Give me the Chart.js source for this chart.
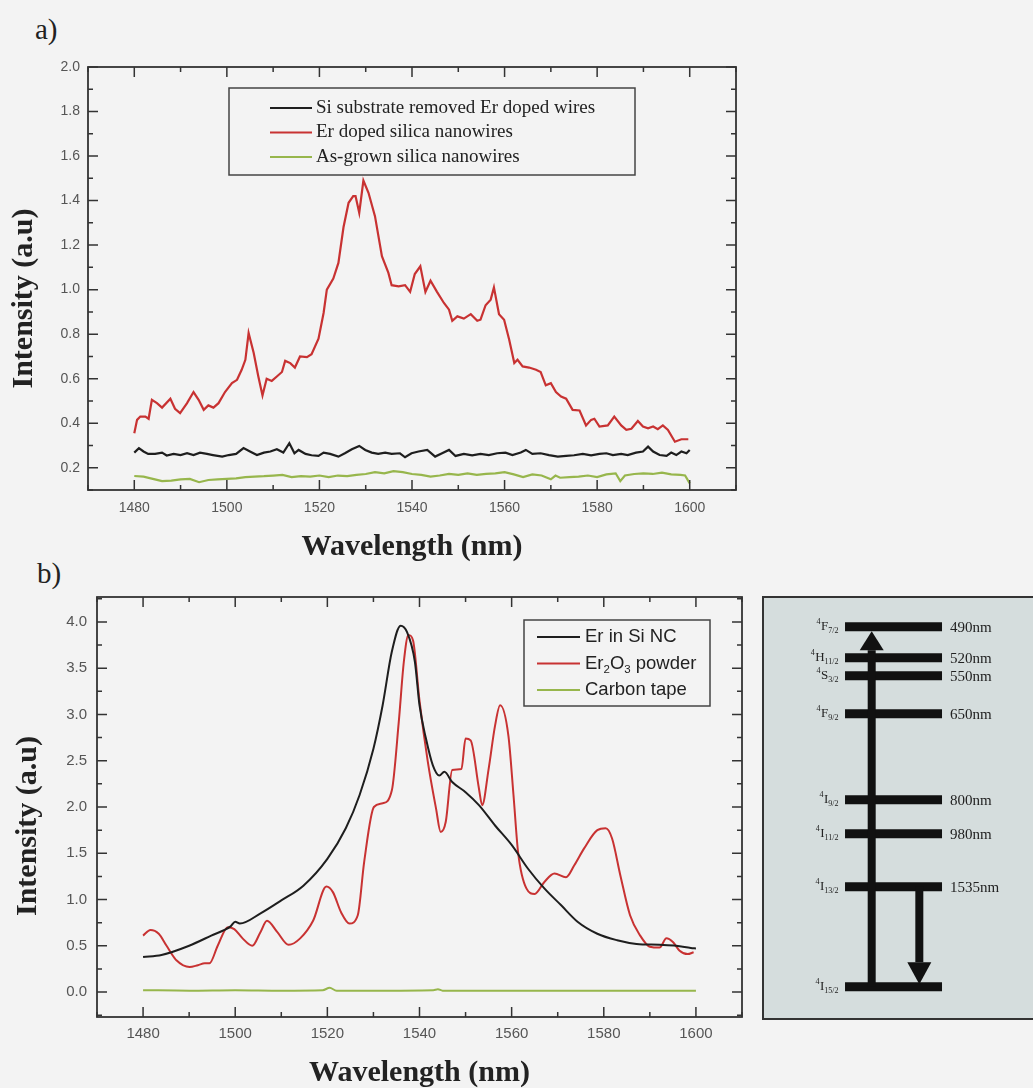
<!DOCTYPE html>
<html>
<head>
<meta charset="utf-8">
<title>Er photoluminescence</title>
<script src="https://cdn.jsdelivr.net/npm/chart.js@4.4.1/dist/chart.umd.min.js"></script>
<style>
  body { margin: 0; background: #f3f3f3; overflow: hidden; }
  #page { position: relative; width: 1033px; height: 1088px; overflow: hidden; }
  canvas { position: absolute; }
  .panel { position: absolute; font: 29px "Liberation Serif", serif; color: #222; }
</style>
</head>
<body>
<div id="page">
  <div class="panel" style="left:35px;top:13px">a)</div>
  <div class="panel" style="left:37px;top:557px">b)</div>
  <canvas id="chartA" width="760" height="570" style="left:0;top:0"></canvas>
  <canvas id="chartB" width="760" height="523" style="left:0;top:565px"></canvas>
  <canvas id="levels" width="290" height="424" style="left:762px;top:596px"></canvas>
</div>
<script>
// ---- ticks ----
var wlMajor = [1480, 1500, 1520, 1540, 1560, 1580, 1600];
var wlMinor = [1470, 1490, 1510, 1530, 1550, 1570, 1590, 1610];
var intMajorA = [0.2, 0.4, 0.6, 0.8, 1.0, 1.2, 1.4, 1.6, 1.8, 2.0];
var intMinorA = [0.1, 0.3, 0.5, 0.7, 0.9, 1.1, 1.3, 1.5, 1.7, 1.9];
var intMajorB = [0.0, 0.5, 1.0, 1.5, 2.0, 2.5, 3.0, 3.5, 4.0];
var intMinorB = [-0.25, 0.25, 0.75, 1.25, 1.75, 2.25, 2.75, 3.25, 3.75, 4.25];

// ---- a) nanowire spectra ----
var labelsA = ['Si substrate removed Er doped wires', 'Er doped silica nanowires', 'As-grown silica nanowires'];

var blackAWl = [1480, 1481, 1482, 1483, 1484.5, 1486, 1487, 1488.5, 1490, 1491.4, 1492.8, 1494.2, 1495.7, 1497, 1499,
  1500.4, 1502, 1503.6, 1505, 1506.5, 1508, 1509.4, 1510.8, 1512.2, 1513.5, 1514.6, 1515.5, 1517, 1518.3, 1519.8,
  1520.9, 1522.3, 1524.1, 1525.5, 1527, 1528.6, 1529.9, 1531.3, 1532.7, 1534.2, 1535.6, 1537.4, 1538.5, 1539.9,
  1541.4, 1543.3, 1545, 1546.5, 1548, 1549.4, 1551.2, 1553, 1554.8, 1556.6, 1558.4, 1560.2, 1561.7, 1563.5, 1564.6,
  1566, 1567.8, 1569.6, 1571.5, 1573.3, 1575, 1576.9, 1578.7, 1580.5, 1582, 1583.4, 1585.2, 1586.6, 1588.4, 1589.9,
  1591, 1592.1, 1593.5, 1595, 1596, 1597.1, 1598.2, 1599.3, 1600];
var blackAVal = [0.268, 0.288, 0.273, 0.262, 0.262, 0.268, 0.255, 0.262, 0.257, 0.265, 0.257, 0.268, 0.262, 0.257, 0.25,
  0.257, 0.262, 0.288, 0.273, 0.257, 0.268, 0.273, 0.283, 0.268, 0.31, 0.265, 0.28, 0.262, 0.256, 0.253,
  0.268, 0.262, 0.25, 0.265, 0.283, 0.298, 0.28, 0.268, 0.262, 0.268, 0.262, 0.265, 0.247, 0.265,
  0.273, 0.28, 0.25, 0.265, 0.28, 0.253, 0.262, 0.256, 0.262, 0.257, 0.265, 0.268, 0.257, 0.268, 0.28,
  0.262, 0.265, 0.257, 0.25, 0.253, 0.256, 0.262, 0.256, 0.262, 0.265, 0.257, 0.262, 0.257, 0.268, 0.273,
  0.295, 0.273, 0.257, 0.253, 0.268, 0.257, 0.273, 0.265, 0.28];

var redAWl = [1480, 1480.6, 1481.3, 1482.4, 1483.1, 1483.8, 1484.9, 1486, 1487.8, 1488.8, 1489.9, 1491.4, 1492.8, 1493.9,
  1495, 1496, 1497.1, 1498.2, 1499.6, 1501.1, 1502.2, 1503.2, 1504, 1504.7, 1505.8, 1506.8, 1507.7, 1508.6, 1509.7,
  1510.8, 1511.9, 1512.6, 1513.7, 1514.7, 1515.8, 1517.3, 1518.3, 1519.8, 1520.9, 1521.6, 1523, 1524.1, 1525.2,
  1526.3, 1527.3, 1527.8, 1528.6, 1529.5, 1530.6, 1532, 1533.5, 1534.9, 1535.6, 1537.1, 1538.5, 1539.6, 1540.6,
  1541.8, 1542.9, 1544, 1545.4, 1546.9, 1548, 1548.7, 1549.8, 1551.2, 1552.7, 1554.1, 1554.8, 1555.9, 1557, 1557.7,
  1558.8, 1559.9, 1561, 1562.1, 1562.8, 1563.9, 1565.3, 1566.8, 1567.8, 1568.9, 1570, 1571.1, 1572.2, 1573.3,
  1574.7, 1576.2, 1577.6, 1578.7, 1579.4, 1580.5, 1582.3, 1583.7, 1585.2, 1586.3, 1587.4, 1588.8, 1589.9, 1591,
  1592.1, 1593.1, 1594.2, 1595.3, 1596.8, 1598.2, 1599.7];
var redAVal = [0.355, 0.415, 0.43, 0.43, 0.42, 0.505, 0.49, 0.47, 0.51, 0.465, 0.445, 0.49, 0.54, 0.505,
  0.46, 0.48, 0.47, 0.49, 0.54, 0.58, 0.595, 0.64, 0.685, 0.805, 0.715, 0.61, 0.525, 0.60, 0.59,
  0.61, 0.63, 0.68, 0.67, 0.65, 0.70, 0.697, 0.71, 0.78, 0.895, 1.0, 1.05, 1.12, 1.28,
  1.39, 1.42, 1.42, 1.345, 1.49, 1.435, 1.33, 1.15, 1.075, 1.02, 1.015, 1.02, 0.99, 1.07,
  1.105, 0.99, 1.04, 0.99, 0.94, 0.91, 0.86, 0.88, 0.87, 0.89, 0.86, 0.865, 0.93, 0.955, 1.01,
  0.89, 0.865, 0.775, 0.67, 0.685, 0.655, 0.65, 0.64, 0.63, 0.57, 0.58, 0.54, 0.52, 0.51,
  0.46, 0.457, 0.39, 0.415, 0.42, 0.385, 0.39, 0.43, 0.39, 0.37, 0.375, 0.41, 0.385, 0.377,
  0.385, 0.373, 0.39, 0.37, 0.317, 0.328, 0.328];

var greenAWl = [1480, 1482, 1484, 1486, 1488, 1490, 1492, 1494, 1496, 1498, 1500, 1502, 1504, 1506, 1508, 1510,
  1512, 1514, 1516, 1518, 1520, 1522, 1524, 1526, 1528, 1530, 1532, 1534, 1536, 1538, 1540, 1542, 1544, 1546,
  1548, 1550, 1552, 1554, 1556, 1558, 1560, 1562, 1564, 1566, 1568, 1570, 1571, 1572, 1574, 1576, 1578, 1580,
  1582, 1584, 1585, 1586, 1588, 1590, 1592, 1594, 1596, 1598, 1599, 1600];
var greenAVal = [0.163, 0.16, 0.15, 0.14, 0.142, 0.148, 0.15, 0.135, 0.145, 0.148, 0.15, 0.152, 0.158, 0.16, 0.162, 0.165,
  0.168, 0.158, 0.162, 0.16, 0.165, 0.158, 0.165, 0.162, 0.168, 0.172, 0.18, 0.175, 0.185, 0.18, 0.172, 0.168, 0.16, 0.165,
  0.172, 0.168, 0.175, 0.168, 0.172, 0.175, 0.18, 0.17, 0.158, 0.17, 0.165, 0.148, 0.165, 0.155, 0.158, 0.16, 0.165, 0.158,
  0.17, 0.175, 0.14, 0.165, 0.172, 0.175, 0.172, 0.178, 0.17, 0.168, 0.165, 0.13];

// ---- b) reference samples ----
var labelsB = ['Er in Si NC', 'Er\u2082O\u2083 powder', 'Carbon tape'];

var blackBWl = [1480, 1484, 1490, 1494.8, 1499, 1500, 1501, 1505.5, 1510, 1514.8, 1520, 1524, 1527, 1530, 1532, 1534,
  1535.9, 1537.3, 1539, 1540, 1541.4, 1542.9, 1544.3, 1545.4, 1547.1, 1550, 1552.9, 1556.4, 1560, 1563.6, 1567.1,
  1570.7, 1574.3, 1578.6, 1582.9, 1587.1, 1592.1, 1595.7, 1598.9, 1600];
var blackBVal = [0.378, 0.40, 0.50, 0.61, 0.71, 0.76, 0.74, 0.85, 0.99, 1.15, 1.44, 1.77, 2.13, 2.63, 3.10, 3.68,
  3.96, 3.89, 3.57, 3.10, 2.74, 2.45, 2.34, 2.38, 2.27, 2.16, 2.02, 1.80, 1.59, 1.33, 1.12,
  0.94, 0.76, 0.63, 0.56, 0.52, 0.51, 0.50, 0.476, 0.47];

var redBWl = [1480, 1481.6, 1483.4, 1485.1, 1487.3, 1490.1, 1491.9, 1493.4, 1494.4, 1496.2, 1498.4, 1499.8, 1501.6,
  1503.7, 1505.5, 1506.9, 1509.1, 1511.6, 1514.1, 1516.9, 1519.8, 1521.2, 1523, 1524.8, 1526.6, 1528, 1530.1, 1532,
  1534, 1535.5, 1536.6, 1537.6, 1538.6, 1540, 1541.8, 1543.6, 1544.6, 1545.7, 1547.1, 1549.1, 1550, 1551.1, 1552.9,
  1553.6, 1555, 1556.4, 1557.5, 1559.3, 1560.4, 1561.4, 1563.2, 1565, 1567.1, 1569.3, 1571.8, 1573.6, 1575.7, 1578.6,
  1580.4, 1581.8, 1583.6, 1585.7, 1587.9, 1590, 1592.1, 1593.6, 1595, 1596.4, 1598.2, 1599.5];
var redBVal = [0.61, 0.67, 0.63, 0.50, 0.34, 0.27, 0.29, 0.31, 0.31, 0.50, 0.70, 0.68, 0.58,
  0.50, 0.65, 0.77, 0.65, 0.51, 0.58, 0.77, 1.14, 1.08, 0.86, 0.74, 0.83, 1.41, 2.00, 2.04,
  2.18, 2.92, 3.57, 3.86, 3.80, 3.15, 2.49, 1.98, 1.73, 1.84, 2.40, 2.41, 2.74, 2.72, 2.20,
  2.02, 2.41, 2.88, 3.10, 2.77, 2.13, 1.51, 1.12, 1.06, 1.19, 1.28, 1.24, 1.37, 1.55, 1.75,
  1.77, 1.66, 1.26, 0.83, 0.61, 0.49, 0.48, 0.58, 0.54, 0.45, 0.41, 0.43];

var greenBWl = [1480, 1490, 1500, 1510, 1519, 1520.5, 1522, 1530, 1543, 1544, 1545, 1560, 1580, 1600];
var greenBVal = [0.02, 0.015, 0.02, 0.015, 0.02, 0.045, 0.015, 0.015, 0.02, 0.03, 0.015, 0.015, 0.015, 0.015];

// ---- Er3+ energy levels (ground up) ----
var levelTerm = ['I', 'I', 'I', 'I', 'F', 'S', 'H', 'F'];
var levelJ = ['15/2', '13/2', '11/2', '9/2', '9/2', '3/2', '11/2', '7/2'];
var levelWl = [null, 1535, 980, 800, 650, 550, 520, 490];
var levelHeight = [0, 100, 153, 187, 273, 311, 329, 360];
var pump = { from: 0, to: 7, at: 0.275 };
var emission = { from: 1, to: 0, at: 0.766 };

var BLACK = '#1e1e1e', RED = '#c83232', GREEN = '#97b64c';
var SERIF = '"Liberation Serif", "DejaVu Serif", serif';
var SANS = '"Liberation Sans", "DejaVu Sans", sans-serif';

function pts(xs, ys) {
    return xs.map(function(v, i) { return {x: v, y: ys[i]}; });
}

function tickSet(major, minor) {
    return function(scale) {
        var t = major.map(function(v) { return {value: v, big: true}; })
            .concat(minor.map(function(v) { return {value: v, big: false}; }));
        t.sort(function(a, b) { return a.value - b.value; });
        scale.ticks = t;
    };
}

// text with unicode subscript digits drawn as small lowered glyphs
function drawRich(ctx, text, x, y, size, family, color) {
    var sub = '\u2080\u2081\u2082\u2083\u2084\u2085\u2086\u2087\u2088\u2089';
    var parts = [], cur = '';
    for (var ch of text) {
        var k = sub.indexOf(ch);
        if (k >= 0) {
            if (cur) parts.push({t: cur, s: false});
            cur = '';
            parts.push({t: String(k), s: true});
        } else {
            cur += ch;
        }
    }
    if (cur) parts.push({t: cur, s: false});
    ctx.fillStyle = color;
    ctx.textBaseline = 'middle';
    ctx.textAlign = 'left';
    parts.forEach(function(p) {
        ctx.font = (p.s ? size * 0.62 : size) + 'px ' + family;
        ctx.fillText(p.t, x, p.s ? y + size * 0.32 : y);
        x += ctx.measureText(p.t).width;
    });
}

// Origin style frame: box, inward ticks on all four sides, rotated y title
var originFrame = {
    id: 'originFrame',
    afterDatasetsDraw: function(chart, args, o) {
        var ctx = chart.ctx, a = chart.chartArea, x = chart.scales.x, y = chart.scales.y;
        ctx.save();
        ctx.strokeStyle = o.color;
        ctx.lineWidth = 1.5;
        ctx.beginPath();
        x.ticks.forEach(function(t) {
            var px = x.getPixelForValue(t.value);
            var len = t.big ? o.major : o.minor;
            ctx.moveTo(px, a.bottom); ctx.lineTo(px, a.bottom - len);
            ctx.moveTo(px, a.top); ctx.lineTo(px, a.top + len);
        });
        y.ticks.forEach(function(t) {
            var py = y.getPixelForValue(t.value);
            var len = t.big ? o.major : o.minor;
            ctx.moveTo(a.left, py); ctx.lineTo(a.left + len, py);
            ctx.moveTo(a.right, py); ctx.lineTo(a.right - len, py);
        });
        ctx.stroke();
        ctx.lineWidth = o.width;
        ctx.strokeRect(a.left, a.top, a.right - a.left, a.bottom - a.top);

        ctx.translate(o.titleX, (a.top + a.bottom) / 2 + o.titleShift);
        ctx.rotate(-Math.PI / 2);
        ctx.fillStyle = '#222';
        ctx.font = 'bold ' + o.titleSize + 'px ' + SERIF;
        ctx.textAlign = 'center';
        ctx.textBaseline = 'middle';
        ctx.fillText(y.options.title.text, 0, 0);
        ctx.restore();
    }
};

// boxed legend placed inside the plot
var boxLegend = {
    id: 'boxLegend',
    afterDraw: function(chart, args, o) {
        var ctx = chart.ctx, a = chart.chartArea;
        var bx = a.left + o.left, by = a.top + o.top;
        ctx.save();
        ctx.fillStyle = '#f3f3f3';
        ctx.fillRect(bx, by, o.width, o.height);
        ctx.strokeStyle = '#444';
        ctx.lineWidth = 1.5;
        ctx.strokeRect(bx, by, o.width, o.height);
        chart.data.datasets.forEach(function(ds, i) {
            var yy = by + o.first + i * o.row;
            ctx.strokeStyle = ds.borderColor;
            ctx.lineWidth = 2;
            ctx.beginPath();
            ctx.moveTo(bx + o.lineFrom, yy);
            ctx.lineTo(bx + o.lineTo, yy);
            ctx.stroke();
            drawRich(ctx, ds.label, bx + o.textAt, yy, o.size, o.family, '#222');
        });
        ctx.restore();
    }
};

function spectrumChart(id, sets, cfg) {
    return new Chart(document.getElementById(id), {
        type: 'line',
        data: {
            datasets: sets.map(function(s) {
                return {
                    label: s.label, data: s.data, borderColor: s.color, borderWidth: cfg.lineWidth,
                    pointRadius: 0, fill: false, tension: 0,
                    cubicInterpolationMode: cfg.smooth ? 'monotone' : 'default'
                };
            })
        },
        options: {
            responsive: false,
            animation: false,
            events: [],
            layout: { padding: { left: 0, top: cfg.padTop, right: cfg.padRight, bottom: 0 } },
            plugins: {
                legend: { display: false },
                tooltip: { enabled: false },
                originFrame: { color: '#333', width: 1.8, major: 10, minor: 5,
                    titleX: cfg.titleX, titleShift: cfg.titleShift, titleSize: 30 },
                boxLegend: cfg.legend
            },
            scales: {
                x: {
                    type: 'linear', min: 1470, max: 1610,
                    grid: { display: false, drawTicks: false }, border: { display: false },
                    afterBuildTicks: tickSet(wlMajor, wlMinor),
                    afterFit: function(s) { s.height = cfg.xHeight; },
                    ticks: {
                        autoSkip: false, maxRotation: 0, padding: cfg.xPad, color: '#555',
                        font: { family: SANS, size: cfg.tickSize },
                        callback: function(v, i, t) { return t[i].big ? String(v) : ''; }
                    },
                    title: {
                        display: true, text: 'Wavelength (nm)', color: '#222',
                        font: { family: SERIF, size: 30, weight: 'bold', lineHeight: 1 },
                        padding: { top: 0, bottom: cfg.xTitlePad }
                    }
                },
                y: {
                    min: cfg.yMin, max: cfg.yMax,
                    grid: { display: false, drawTicks: false }, border: { display: false },
                    afterBuildTicks: tickSet(cfg.yMajor, cfg.yMinor),
                    afterFit: function(s) { s.width = cfg.yWidth; },
                    ticks: {
                        autoSkip: false, padding: cfg.yPad, color: '#555',
                        font: { family: SANS, size: cfg.tickSize },
                        callback: function(v, i, t) { return t[i].big ? v.toFixed(1) : ''; }
                    },
                    title: { display: false, text: 'Intensity (a.u)' }
                }
            }
        },
        plugins: [originFrame, boxLegend]
    });
}

spectrumChart('chartA', [
    { label: labelsA[0], data: pts(blackAWl, blackAVal), color: BLACK },
    { label: labelsA[1], data: pts(redAWl, redAVal), color: RED },
    { label: labelsA[2], data: pts(greenAWl, greenAVal), color: GREEN }
], {
    lineWidth: 2.2, smooth: false, padTop: 67, padRight: 24, xHeight: 80, yWidth: 88,
    xPad: 10, yPad: 8, tickSize: 14, xTitlePad: 8, titleX: 24, titleShift: 20,
    yMin: 0.1, yMax: 2.0, yMajor: intMajorA, yMinor: intMinorA,
    legend: { left: 141, top: 21, width: 406, height: 87, first: 20, row: 24.5,
        lineFrom: 41, lineTo: 83, textAt: 87, size: 19, family: SERIF }
});

spectrumChart('chartB', [
    { label: labelsB[0], data: pts(blackBWl, blackBVal), color: BLACK },
    { label: labelsB[1], data: pts(redBWl, redBVal), color: RED },
    { label: labelsB[2], data: pts(greenBWl, greenBVal), color: GREEN }
], {
    lineWidth: 2, smooth: true, padTop: 32, padRight: 18, xHeight: 71, yWidth: 97,
    xPad: 8, yPad: 10, tickSize: 15, xTitlePad: 0, titleX: 28, titleShift: 19,
    yMin: -0.27, yMax: 4.27, yMajor: intMajorB, yMinor: intMinorB,
    legend: { left: 427, top: 23, width: 186, height: 86, first: 17, row: 26.5,
        lineFrom: 13, lineTo: 56, textAt: 61, size: 18.5, family: SANS }
});

// ---- energy level diagram ----
function drawTerm(ctx, L, J, right, y) {
    var big = 13, small = 8;
    ctx.font = big + 'px ' + SERIF;
    var wL = ctx.measureText(L).width;
    ctx.font = small + 'px ' + SERIF;
    var wJ = ctx.measureText(J).width, w4 = ctx.measureText('4').width;
    var x = right - wJ - wL - w4 - 1;
    ctx.fillStyle = '#222';
    ctx.textAlign = 'left';
    ctx.textBaseline = 'middle';
    ctx.fillText('4', x, y - 5);
    ctx.font = big + 'px ' + SERIF;
    ctx.fillText(L, x + w4 + 0.5, y);
    ctx.font = small + 'px ' + SERIF;
    ctx.fillText(J, x + w4 + wL + 0.5, y + 4);
}

function drawArrow(ctx, px, fromPy, tipPy, shaft, half, head) {
    var dir = tipPy < fromPy ? 1 : -1;
    var base = tipPy + dir * head;
    ctx.lineWidth = shaft;
    ctx.beginPath();
    ctx.moveTo(px, fromPy);
    ctx.lineTo(px, base);
    ctx.stroke();
    ctx.beginPath();
    ctx.moveTo(px - half, base);
    ctx.lineTo(px + half, base);
    ctx.lineTo(px, tipPy);
    ctx.closePath();
    ctx.fill();
}

var levelMarks = {
    id: 'levelMarks',
    beforeDraw: function(chart, args, o) {
        var ctx = chart.ctx;
        ctx.save();
        ctx.fillStyle = o.fill;
        ctx.fillRect(0, 0, chart.width, chart.height);
        ctx.strokeStyle = o.frame;
        ctx.lineWidth = 2;
        ctx.strokeRect(1, 1, chart.width + 10, chart.height - 2);
        ctx.restore();
    },
    afterDatasetsDraw: function(chart, args, o) {
        var ctx = chart.ctx, x = chart.scales.x, y = chart.scales.y;
        var half = o.bar / 2;
        ctx.save();
        levelHeight.forEach(function(h, i) {
            var py = y.getPixelForValue(h);
            drawTerm(ctx, levelTerm[i], levelJ[i], x.getPixelForValue(0) - 6, py);
            if (levelWl[i]) {
                ctx.font = '15px ' + SERIF;
                ctx.fillStyle = '#222';
                ctx.textAlign = 'left';
                ctx.textBaseline = 'middle';
                ctx.fillText(levelWl[i] + 'nm', x.getPixelForValue(1) + 8, py + 1);
            }
        });
        ctx.strokeStyle = '#111';
        ctx.fillStyle = '#111';
        drawArrow(ctx, x.getPixelForValue(pump.at), y.getPixelForValue(levelHeight[pump.from]),
            y.getPixelForValue(levelHeight[pump.to]) + half, 8, 12, 19);
        drawArrow(ctx, x.getPixelForValue(emission.at), y.getPixelForValue(levelHeight[emission.from]),
            y.getPixelForValue(levelHeight[emission.to]) - half + 2, 8, 12, 22);
        ctx.restore();
    }
};

new Chart(document.getElementById('levels'), {
    type: 'line',
    data: {
        datasets: levelHeight.map(function(h, i) {
            return {
                label: levelTerm[i] + levelJ[i],
                data: [{x: 0, y: h}, {x: 1, y: h}],
                borderColor: '#111', borderWidth: 9, borderCapStyle: 'butt',
                pointRadius: 0, fill: false
            };
        })
    },
    options: {
        responsive: false,
        animation: false,
        events: [],
        layout: { padding: 0 },
        plugins: {
            legend: { display: false },
            tooltip: { enabled: false },
            levelMarks: { fill: '#d5dddd', frame: '#333', bar: 9 }
        },
        scales: {
            x: { type: 'linear', min: -0.856, max: 2.134, display: false },
            y: { min: -33.3, max: 390.7, display: false }
        }
    },
    plugins: [levelMarks]
});
</script>
</body>
</html>
